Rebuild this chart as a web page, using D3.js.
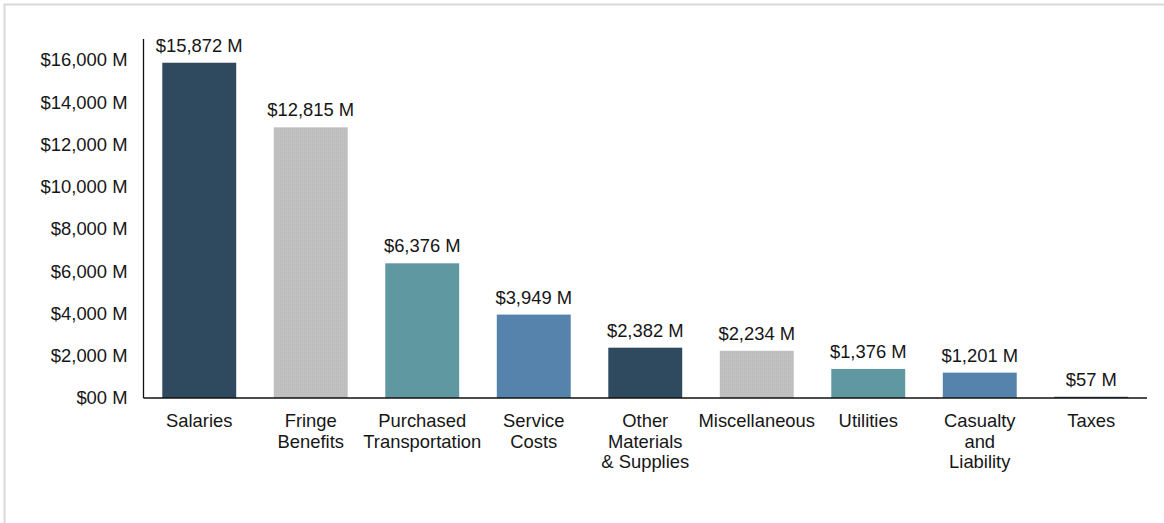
<!DOCTYPE html>
<html>
<head>
<meta charset="utf-8">
<script src="https://cdn.jsdelivr.net/npm/d3@7"></script>
<style>
  html, body { margin: 0; padding: 0; background: #fff; }
  svg { display: block; }
  text { font-family: "Liberation Sans", Arial, sans-serif; fill: #161616; }
</style>
</head>
<body>
<svg id="chart" width="1164" height="523"></svg>
<script>
// Expense categories (label lines separated by "\n")
const categories = [
  "Salaries",
  "Fringe\nBenefits",
  "Purchased\nTransportation",
  "Service\nCosts",
  "Other\nMaterials\n& Supplies",
  "Miscellaneous",
  "Utilities",
  "Casualty\nand\nLiability",
  "Taxes"
];
// Amounts in millions of dollars
const values = [15872, 12815, 6376, 3949, 2382, 2234, 1376, 1201, 57];
// Y-axis tick values
const yTicks = [0, 2000, 4000, 6000, 8000, 10000, 12000, 14000, 16000];
const yMax = 17000;
// Repeating bar palette
const palette = ["#2f4a5f", "url(#grayTex)", "#5f98a1", "#5583ab"];

const fontSize = 18.4;
const svg = d3.select("#chart");

// Outer frame
svg.append("rect")
  .attr("x", 4.5).attr("y", 4.5)
  .attr("width", 1200).attr("height", 600)
  .attr("fill", "none")
  .attr("stroke", "#d9d9d9")
  .attr("stroke-width", 2);

// Fine texture for the gray bars
const defs = svg.append("defs");
const pat = defs.append("pattern")
  .attr("id", "grayTex")
  .attr("patternUnits", "userSpaceOnUse")
  .attr("width", 2).attr("height", 2);
pat.append("rect").attr("width", 2).attr("height", 2).attr("fill", "#bfbfbf");
pat.append("rect").attr("width", 1).attr("height", 1).attr("fill", "#bbbbbb");
pat.append("rect").attr("x", 1).attr("y", 1).attr("width", 1).attr("height", 1).attr("fill", "#c3c3c3");

const x = d3.scaleBand()
  .domain(categories)
  .range([143.5, 1147])
  .paddingInner(0.337)
  .paddingOuter(0.1685);

const y = d3.scaleLinear()
  .domain([0, yMax])
  .range([398, 38.9]);

const fmt = d3.format(",");

// Bars
svg.append("g").selectAll("rect")
  .data(values)
  .join("rect")
  .attr("x", (d, i) => x(categories[i]))
  .attr("y", d => y(d))
  .attr("width", x.bandwidth())
  .attr("height", d => y(0) - y(d))
  .attr("fill", (d, i) => palette[i % palette.length]);

// Value labels
svg.append("g").selectAll("text")
  .data(values)
  .join("text")
  .attr("x", (d, i) => x(categories[i]) + x.bandwidth() / 2)
  .attr("y", d => y(d) - 11)
  .attr("text-anchor", "middle")
  .attr("font-size", fontSize)
  .text(d => "$" + fmt(d) + " M");

// Y axis
const yAxis = d3.axisLeft(y)
  .tickValues(yTicks)
  .tickSize(0)
  .tickPadding(16)
  .tickFormat(d => "$" + (d === 0 ? "00" : fmt(d)) + " M");

const gy = svg.append("g")
  .attr("transform", "translate(143.5,0)")
  .call(yAxis);
gy.select(".domain").remove();
gy.selectAll("text")
  .attr("font-size", fontSize)
  .attr("font-family", "Liberation Sans, Arial, sans-serif")
  .attr("fill", "#161616");
svg.append("line")
  .attr("x1", 143.5).attr("x2", 143.5)
  .attr("y1", y(yMax)).attr("y2", y(0))
  .attr("stroke", "#111").attr("stroke-width", 1.3);

// X axis
const xAxis = d3.axisBottom(x).tickSize(0).tickFormat("");
const gx = svg.append("g")
  .attr("transform", `translate(0,${y(0)})`)
  .call(xAxis);
gx.select(".domain").remove();
svg.append("line")
  .attr("x1", 143.5).attr("x2", 1147)
  .attr("y1", y(0)).attr("y2", y(0))
  .attr("stroke", "#111").attr("stroke-width", 1.3);

// Category labels (multi-line)
const labels = svg.append("g").selectAll("text")
  .data(categories)
  .join("text")
  .attr("x", d => x(d) + x.bandwidth() / 2)
  .attr("y", 427)
  .attr("text-anchor", "middle")
  .attr("font-size", fontSize);
labels.each(function(d) {
  const t = d3.select(this);
  d.split("\n").forEach((line, i) => {
    t.append("tspan")
      .attr("x", x(d) + x.bandwidth() / 2)
      .attr("dy", i === 0 ? 0 : 20.7)
      .text(line);
  });
});
</script>
</body>
</html>
